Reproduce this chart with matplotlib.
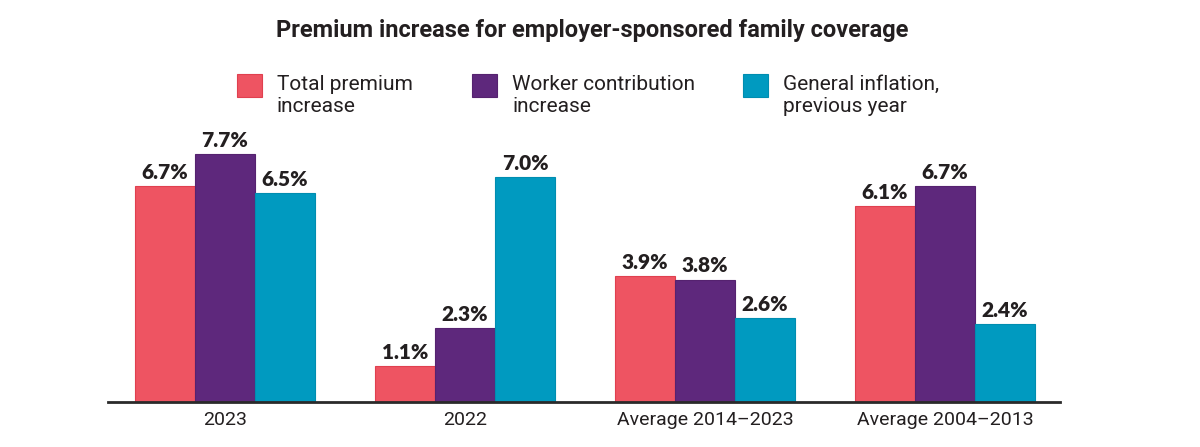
import numpy as np
import matplotlib
matplotlib.use("Agg")
import matplotlib.pyplot as plt
from matplotlib.patches import Rectangle

# data
categories = ["2023", "2022", "Average 2014\u20132023", "Average 2004\u20132013"]
series_names = ["Total premium\nincrease", "Worker contribution\nincrease",
                "General inflation,\nprevious year"]
total_premium = [6.7, 1.1, 3.9, 6.1]
worker_contrib = [7.7, 2.3, 3.8, 6.7]
inflation = [6.5, 7.0, 2.6, 2.4]

colors = ["#EE5462", "#5E287C", "#009AC0"]
edges = ["#E0404F", "#55226F", "#008DB0"]
TXT = "#231F20"

plt.rcParams["font.family"] = ["Roboto", "DejaVu Sans"]

fig = plt.figure(figsize=(12, 4.47), dpi=100)
ax = fig.add_axes([108 / 1200, 45.5 / 447, 952 / 1200, 8.0 * 32.1 / 447])

x = np.arange(len(categories))
w = 0.25
series = [total_premium, worker_contrib, inflation]
for i, vals in enumerate(series):
    xs = x + (i - 1) * w
    bars = ax.bar(xs, vals, width=w, color=colors[i], edgecolor=edges[i],
                  linewidth=0.8, zorder=2)
    for b, v in zip(bars, vals):
        ax.annotate(f"{v:.1f}%", (b.get_x() + b.get_width() / 2, v),
                    xytext=(0, 3), textcoords="offset points",
                    ha="center", va="bottom", fontsize=15,
                    fontfamily=["Lato", "DejaVu Sans"], fontweight="heavy",
                    color=TXT)

ax.set_xlim(-0.4875, 3.479)
ax.set_ylim(0, 8.0)
ax.set_xticks(x)
ax.set_xticklabels(categories, fontsize=14, color=TXT)
ax.tick_params(axis="x", length=0, pad=7)
ax.set_yticks([])
for s in ["top", "right", "left"]:
    ax.spines[s].set_visible(False)
ax.spines["bottom"].set_linewidth(2)
ax.spines["bottom"].set_color("#2a2a2a")

# title
fig.text(592 / 1200, 1 - 31 / 447,
         "Premium increase for employer-sponsored family coverage",
         ha="center", va="center", fontsize=17, fontweight="bold", color=TXT)

# legend drawn by hand
leg_x = [237, 472, 743]
for i, name in enumerate(series_names):
    x0 = leg_x[i]
    fig.patches.append(Rectangle((x0 / 1200, 1 - 97 / 447), 25 / 1200, 23 / 447,
                                 transform=fig.transFigure,
                                 facecolor=colors[i], edgecolor=edges[i],
                                 linewidth=0.8))
    fig.text((x0 + 40) / 1200, 1 - 75 / 447, name, ha="left", va="top",
             fontsize=15, color=TXT, linespacing=1.2)

fig.savefig("out.png", dpi=100, facecolor="white")
